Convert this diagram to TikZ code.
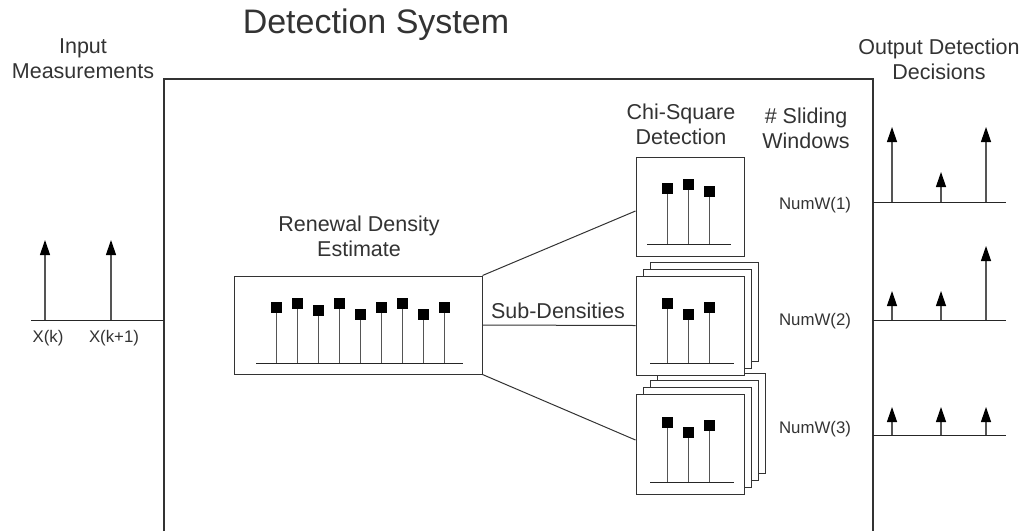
\documentclass[tikz,border=0pt]{standalone}
\usepackage{fontspec}
\setmainfont{Liberation Sans}
\usetikzlibrary{arrows.meta}
\definecolor{txt}{HTML}{333333}
\definecolor{linec}{HTML}{333333}
\definecolor{stemc}{HTML}{555555}
\begin{document}
\begin{tikzpicture}[x=1pt,y=-1pt,
  lbl/.style={font=\fontsize{21.5}{25}\selectfont, text=txt, align=center, inner sep=0pt},
  ttl/.style={font=\fontsize{34}{38}\selectfont, text=txt, inner sep=0pt},
  sml/.style={font=\fontsize{16.8}{19}\selectfont, text=txt, inner sep=0pt},
  pane/.style={draw=linec, fill=white, line width=1pt, inner sep=0pt, minimum width=108pt, minimum height=99pt},
  layer/.style={draw=linec, fill=white, line width=1pt},
  stem/.style={draw=stemc, line width=1pt},
  axis/.style={draw=black!85, line width=1pt},
  wire/.style={draw=linec, line width=1pt},
  pulse/.style={draw=stemc, line width=1.2pt, -{Triangle[width=10pt,length=15pt,color=black]}}
]
\useasboundingbox (0,0) rectangle (1027,531);

% system box (cut off at the bottom)
\draw[wire, line width=1.2pt] (164,531) -- (164,79) -- (873,79) -- (873,531);
\coordinate (sysL) at (164,320);
\coordinate (o1) at (873,202);
\coordinate (o2) at (873,320);
\coordinate (o3) at (873,435);
\coordinate (inEnd) at (31,320);
\coordinate (e1) at (1006,202);
\coordinate (e2) at (1006,320);
\coordinate (e3) at (1006,435);

% titles (base anchor = baseline of last line)
\node[ttl, anchor=base] (title) at (376,33) {Detection System};
\node[lbl, anchor=base] (inlbl) at (83,78) {Input\\Measurements};
\node[lbl, anchor=base] (outlbl) at (939,79) {Output Detection\\Decisions};

% input
\draw[axis] (inEnd) -- (sysL);
\draw[pulse] (45,320) -- (45,240);
\draw[pulse] (111,320) -- (111,240);
\node[sml, anchor=base] (xk) at (48,342) {X(k)};
\node[sml, anchor=base] (xk1) at (114,342) {X(k+1)};

% renewal density
\node[lbl, anchor=base] (rdlbl) at (359,256) {Renewal Density\\Estimate};
\node[pane, minimum width=248pt, minimum height=98pt] (rd) at (358,325) {};
\draw[axis] (256,363) -- (463,363);
\foreach \x/\y in {276/307,297/303,318/310,339/303,360/314,381/307,402/303,423/314,444/307}{
  \draw[stem] (\x,363) -- (\x,\y);
  \fill[black] (\x-5.5,\y-5.5) rectangle (\x+5.5,\y+5.5);
}

% chi-square boxes
\node[lbl, anchor=base] (chilbl) at (681,144) {Chi-Square\\Detection};
\node[lbl, anchor=base] (swlbl) at (806,148) {\# Sliding\\Windows};

% stack 3 (behind stack 2)
\draw[layer] (657,373) rectangle (765,473);
\draw[layer] (650,380) rectangle (758,480);
\draw[layer] (643,387) rectangle (751,487);
\node[pane, minimum height=100pt] (c3) at (690,444) {};
\draw[axis] (650,482) -- (734,482);
\foreach \x/\y in {667/422,688/432,709/425}{
  \draw[stem] (\x,482) -- (\x,\y);
  \fill[black] (\x-5.5,\y-5.5) rectangle (\x+5.5,\y+5.5);
}

% stack 2
\draw[layer] (650,262) rectangle (758,361);
\draw[layer] (643,269) rectangle (751,368);
\node[pane] (c2) at (690,325.5) {};
\draw[axis] (650,363) -- (734,363);
\foreach \x/\y in {667/303,688/314,709/307}{
  \draw[stem] (\x,363) -- (\x,\y);
  \fill[black] (\x-5.5,\y-5.5) rectangle (\x+5.5,\y+5.5);
}

% box 1
\node[pane] (c1) at (690,206.5) {};
\draw[axis] (647,244) -- (731,244);
\foreach \x/\y in {667/188,688/184,709/191}{
  \draw[stem] (\x,244) -- (\x,\y);
  \fill[black] (\x-5.5,\y-5.5) rectangle (\x+5.5,\y+5.5);
}

% connectors
\draw[wire] (rd.north east) -- ([yshift=-4.5pt]c1.west);
\draw[wire] (rd.east) -- (c2.west);
\draw[wire] (rd.south east) -- ([yshift=4pt]c3.west);
\node[lbl, anchor=base] (sub) at (558,318) {Sub-Densities};

% window counts
\node[sml, anchor=base] (n1) at (815,209) {NumW(1)};
\node[sml, anchor=base] (n2) at (815,325) {NumW(2)};
\node[sml, anchor=base] (n3) at (815,433) {NumW(3)};

% outputs
\draw[axis] (o1) -- (e1);
\draw[axis] (o2) -- (e2);
\draw[axis] (o3) -- (e3);
\draw[pulse] (892,202) -- (892,127);
\draw[pulse] (941,202) -- (941,172);
\draw[pulse] (986,202) -- (986,127);
\draw[pulse] (892,320) -- (892,291);
\draw[pulse] (941,320) -- (941,291);
\draw[pulse] (986,320) -- (986,246);
\draw[pulse] (892,435) -- (892,407);
\draw[pulse] (941,435) -- (941,407);
\draw[pulse] (986,435) -- (986,407);
\end{tikzpicture}
\end{document}
